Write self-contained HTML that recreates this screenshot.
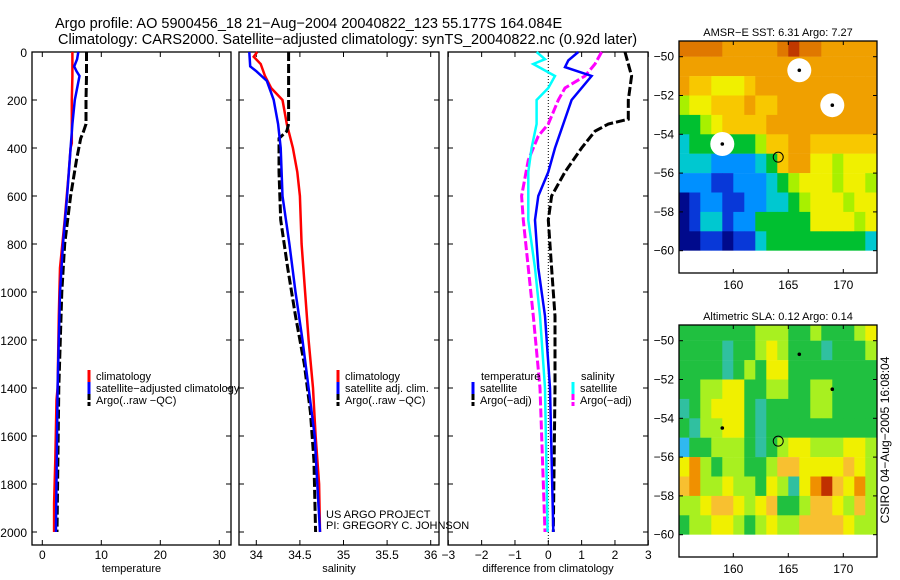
<!DOCTYPE html>
<html><head><meta charset="utf-8"><style>
html,body{margin:0;padding:0;background:#fff;}
svg{display:block;font-family:"Liberation Sans",sans-serif;}
text{fill:#000;}
</style></head><body>
<svg id="fig" width="900" height="580" viewBox="0 0 900 580" xmlns="http://www.w3.org/2000/svg">
<text x="55" y="28" font-size="14.5">Argo profile: AO 5900456_18 21−Aug−2004 20040822_123 55.177S 164.084E</text>
<text x="58" y="44" font-size="14.5">Climatology: CARS2000. Satellite−adjusted climatology: synTS_20040822.nc (0.92d later)</text>
<g id="g"></g>
</svg>
<script>
// ---- data ----
const depthTicks=[0,200,400,600,800,1000,1200,1400,1600,1800,2000];
const tempTicks=[0,10,20,30];
const salTicks=[34,34.5,35,35.5,36];
const diffTicks=[-3,-2,-1,0,1,2,3];
const climTD=[0,100,200,300,380,400,500,700,900,1100,1400,1450,1700,1880,2000];
const climT=[5.1,5.1,5.0,5.0,5.0,4.8,4.5,3.8,3.0,2.8,2.6,2.4,2.2,2.0,2.0];
const satTD=[0,30,60,80,100,200,300,400,600,800,1000,1400,2000];
const satT=[6.1,5.9,5.4,5.8,6.3,5.5,5.1,4.8,4.2,3.5,3.0,2.6,2.3];
const argoTD=[0,100,200,300,330,360,450,600,800,1000,1400,2000];
const argoT=[7.5,7.5,7.4,7.4,7.0,6.5,5.8,4.8,3.8,3.3,2.8,2.5];
const climSD=[0,20,50,100,150,200,300,400,500,600,800,1000,1200,1400,1600,1800,2000];
const climS=[34.01,33.97,34.05,34.1,34.17,34.3,34.35,34.42,34.47,34.5,34.52,34.56,34.6,34.65,34.68,34.72,34.73];
const satSD=[0,60,80,120,200,300,400,600,800,1000,1200,1400,1600,1800,2000];
const satS=[33.92,33.93,34.0,34.12,34.2,34.25,34.28,34.3,34.38,34.45,34.53,34.6,34.67,34.7,34.73];
const argoSD=[0,300,330,360,500,700,900,1100,1300,1500,1700,2000];
const argoS=[34.37,34.37,34.35,34.26,34.26,34.28,34.36,34.45,34.55,34.62,34.66,34.68];
const dTsatD=[0,35,63,100,200,300,400,500,600,700,900,1100,1400,2000];
const dTsat=[0.9,0.6,0.5,1.3,0.7,0.45,0.2,0,-0.3,-0.4,-0.3,-0.1,0.05,0.15];
const dTargoD=[0,100,200,280,300,330,400,500,600,700,900,1100,1400,2000];
const dTargo=[2.3,2.5,2.4,2.4,1.8,1.4,1.0,0.5,0.1,0,0.1,0.2,0.2,0.15];
const dSsatD=[0,30,50,100,150,200,300,400,500,700,900,1100,1400,2000];
const dSsat=[-0.35,-0.1,-0.45,0.2,0,-0.35,-0.35,-0.5,-0.6,-0.6,-0.4,-0.25,-0.1,-0.02];
const dSargoD=[0,50,100,150,200,300,350,450,600,700,900,1100,1400,2000];
const dSargo=[1.6,1.4,1.1,0.5,0.3,0,-0.3,-0.6,-0.8,-0.75,-0.6,-0.45,-0.25,-0.1];
const latTicks=[-50,-52,-54,-56,-58,-60];
const lonTicks=[160,165,170];
const sstGrid=[
[10,10,10,10,9,9,9,9,9,10,11,10,10,9,9,9,9,9],
[9,9,9,9,9,9,9,9,9,9,9,9,9,9,9,9,9,9],
[9,8,8,7,7,7,8,9,9,9,9,9,9,9,9,9,9,9],
[6,7,7,8,8,8,9,8,8,9,9,9,9,9,9,9,9,9],
[5,5,6,7,8,8,8,8,9,9,9,9,9,9,9,9,9,9],
[4,5,5,5,5,5,5,6,8,8,9,9,8,8,8,8,8,8],
[4,4,4,3,3,3,3,4,5,8,9,9,7,7,6,7,7,7],
[3,3,3,2,2,3,3,3,4,5,6,7,7,7,6,7,7,6],
[1,2,3,3,2,2,3,3,4,4,5,6,7,7,7,6,7,7],
[1,2,4,4,2,3,3,5,5,5,5,5,7,7,7,7,6,7],
[1,1,2,2,1,2,2,4,5,5,5,5,5,5,5,5,5,4]];
const slaGrid=[
[5,5,5,5,5,5,5,6,6,6,5,5,6,5,5,5,6,7],
[5,5,5,5,4,5,5,6,7,6,5,5,5,4,5,5,5,6],
[5,5,5,5,4,5,6,5,7,7,5,5,5,5,5,5,5,5],
[5,5,6,6,7,7,5,5,6,6,5,5,6,6,5,5,5,5],
[4,5,6,7,7,7,5,4,5,5,5,5,6,6,5,5,5,5],
[5,4,6,6,7,7,5,4,5,5,5,5,5,5,5,5,5,5],
[3,5,5,6,6,6,5,4,5,6,7,7,6,6,6,7,7,6],
[7,9,6,5,6,6,5,5,6,8,8,7,7,7,7,8,7,6],
[8,9,6,6,7,6,6,5,7,6,4,7,9,10,8,7,9,6],
[6,6,7,8,8,7,6,7,8,5,5,6,8,8,7,6,8,6],
[5,6,6,7,7,6,5,6,7,6,6,8,8,8,8,7,6,6]];
const floatLon=164.084, floatLat=-55.177;
const holeLon=[166,169,159], holeLat=[-50.7,-52.5,-54.5];
// ---- drawing ----
const NS='http://www.w3.org/2000/svg';
const G=document.getElementById('g');
function el(t,a,p){const e=document.createElementNS(NS,t);for(const k in a)e.setAttribute(k,a[k]);(p||G).appendChild(e);return e;}
const yD=d=>52+d*0.24;
const xT=t=>42.3+t*5.9, xS=s=>256.3+(s-34)*87.2, xF=v=>548.3+v*33.33;
const PY0=52,PY1=545;
function panel(name,x0,x1,xs,ticks,label,showY){
  const f=el('rect',{x:x0,y:PY0,width:x1-x0,height:PY1-PY0,fill:'none',stroke:'#000','stroke-width':1.3});
  
  
  depthTicks.forEach(d=>{
    el('line',{x1:x0,x2:x0+5,y1:yD(d),y2:yD(d),stroke:'#000'});
    el('line',{x1:x1-5,x2:x1,y1:yD(d),y2:yD(d),stroke:'#000'});
    if(showY){const t=el('text',{x:27,y:yD(d)+5,'font-size':12,'text-anchor':'end'});t.textContent=d;
      
      }
  });
  ticks.forEach(v=>{const x=xs(v);
    el('line',{x1:x,x2:x,y1:PY0,y2:PY0+5,stroke:'#000'});
    el('line',{x1:x,x2:x,y1:PY1-5,y2:PY1,stroke:'#000'});
    const t=el('text',{x:x,y:559,'font-size':12,'text-anchor':'middle'});t.textContent=(v<0?'−'+(-v):v);
    
    
  });
  const l=el('text',{x:(x0+x1)/2,y:572,'font-size':11,'text-anchor':'middle'});l.textContent=label;
  
  
}
function line(name,D,V,xs,color,dash){
  const pts=D.map((d,i)=>xs(V[i]).toFixed(1)+','+yD(d).toFixed(1)).join(' ');
  const p=el('polyline',{points:pts,fill:'none',stroke:color,'stroke-width':dash?3:2.5,'stroke-dasharray':dash?'9,3':'none'});
  
  
}
function legend(name,x,y,color,dash,text){
  const m=el('line',{x1:x,x2:x,y1:y-10,y2:y+2,stroke:color,'stroke-width':3,'stroke-dasharray':dash?'6,2':'none'});
  
  
  if(text){const t=el('text',{x:x+7,y:y,'font-size':11});t.textContent=text;
  
  }
}
function txt(name,x,y,s,fs,anchor){const t=el('text',{x:x,y:y,'font-size':fs||11,'text-anchor':anchor||'start'});t.textContent=s;
  
  return t;}

panel('temperature-panel',32,231,xT,tempTicks,'temperature',true);
line('temp-climatology-line',climTD,climT,xT,'#f00',false);
line('temp-argo-line',argoTD,argoT,xT,'#000',true);
line('temp-satellite-line',satTD,satT,xT,'#00f',false);
legend('legend-climatology',89,380,'#f00',false,'climatology');
legend('legend-satellite-adjusted',89,392,'#00f',false,'satellite−adjusted climatology');
legend('legend-argo-raw',89,404,'#000',true,'Argo(..raw −QC)');

panel('salinity-panel',239,439,xS,salTicks,'salinity',false);
line('sal-climatology-line',climSD,climS,xS,'#f00',false);
line('sal-argo-line',argoSD,argoS,xS,'#000',true);
line('sal-satellite-line',satSD,satS,xS,'#00f',false);
legend('legend-sal-climatology',338,380,'#f00',false,'climatology');
legend('legend-sal-satellite',338,392,'#00f',false,'satellite adj. clim.');
legend('legend-sal-argo',338,404,'#000',true,'Argo(..raw −QC)');
txt('project-credit',326,518,'US ARGO PROJECT',11);
txt('pi-credit',326,529,'PI: GREGORY C. JOHNSON',11);

panel('difference-panel',448,648,xF,diffTicks,'difference from climatology',false);
el('line',{x1:xF(0),x2:xF(0),y1:PY0,y2:PY1,stroke:'#000','stroke-dasharray':'1,2'});
line('diff-sal-argo-line',dSargoD,dSargo,xF,'#f0f',true);
line('diff-temp-argo-line',dTargoD,dTargo,xF,'#000',true);
line('diff-sal-sat-line',dSsatD,dSsat,xF,'#0ff',false);
line('diff-temp-sat-line',dTsatD,dTsat,xF,'#00f',false);
txt('legend-temperature-header',481,380,'temperature');
legend('legend-temp-satellite',473,392,'#00f',false,'satellite');
legend('legend-temp-argo',473,404,'#000',true,'Argo(−adj)');
txt('legend-salinity-header',581,380,'salinity');
legend('legend-sal-sat',573,392,'#0ff',false,'satellite');
legend('legend-sal-argo-adj',573,404,'#f0f',true,'Argo(−adj)');

const sstCol={1:'#000a8c',2:'#0838d8',3:'#0090ff',4:'#00c8d0',5:'#00c030',6:'#a8f000',7:'#f0f000',8:'#f8c800',9:'#f0a000',10:'#e07800',11:'#c03800'};
const slaCol={3:'#30b8f0',4:'#30c0a0',5:'#20c040',6:'#a8f020',7:'#f0f000',8:'#f8c030',9:'#f09000',10:'#c03000'};
function map(name,top,title,grid,cols,holes){
  const L=679,R=877,B=top+232,lat50=top+15.7;
  const xL=lo=>733.3+(lo-160)*11, yL=la=>lat50+(-50-la)*19.4;
  const clipId=name+'-clip';
  const cp=el('clipPath',{id:clipId});el('rect',{x:L,y:top,width:R-L,height:B-top},cp);
  const gg=el('g',{'clip-path':'url(#'+clipId+')'});
  
  
  grid.forEach((row,i)=>row.forEach((v,j)=>{
    const c=el('rect',{x:xL(155+j),y:yL(-49-i),width:11.2,height:19.6,fill:cols[v]},gg);
    
    
  }));
  if(holes)holeLon.forEach((lo,k)=>{
    const h=el('circle',{cx:xL(lo),cy:yL(holeLat[k]),r:12,fill:'#fff'},gg);
    
    
  });
  holeLon.forEach((lo,k)=>el('circle',{cx:xL(lo),cy:yL(holeLat[k]),r:1.8,fill:'#000'},gg));
  el('rect',{x:L,y:yL(-60),width:R-L,height:B-yL(-60),fill:'#fff'},gg);
  const fp=el('circle',{cx:xL(floatLon),cy:yL(floatLat),r:5,fill:'none',stroke:'#000','stroke-width':1});
  
  
  const fr=el('rect',{x:L,y:top,width:R-L,height:B-top,fill:'none',stroke:'#000','stroke-width':1.3});
  
  
  latTicks.forEach(la=>{const y=yL(la);
    el('line',{x1:L,x2:L+4,y1:y,y2:y,stroke:'#000'});el('line',{x1:R-4,x2:R,y1:y,y2:y,stroke:'#000'});
    txt(name+'-lat-label',L-5,y+4,'−'+(-la),12,'end');});
  lonTicks.forEach(lo=>{const x=xL(lo);
    el('line',{x1:x,x2:x,y1:top,y2:top+4,stroke:'#000'});el('line',{x1:x,x2:x,y1:B-4,y2:B,stroke:'#000'});
    txt(name+'-lon-label',x,B+16,lo,12,'middle');});
  txt(name+'-title',778,top-5,title,11,'middle');
}
map('sst-map',41,'AMSR−E SST: 6.31 Argo: 7.27',sstGrid,sstCol,true);
map('sla-map',325,'Altimetric SLA: 0.12 Argo: 0.14',slaGrid,slaCol,false);
const cs=txt('csiro-timestamp',0,0,'CSIRO 04−Aug−2005 16:08:04',12,'middle');
cs.setAttribute('transform','translate(889,440) rotate(-90)');
</script>
</body></html>
